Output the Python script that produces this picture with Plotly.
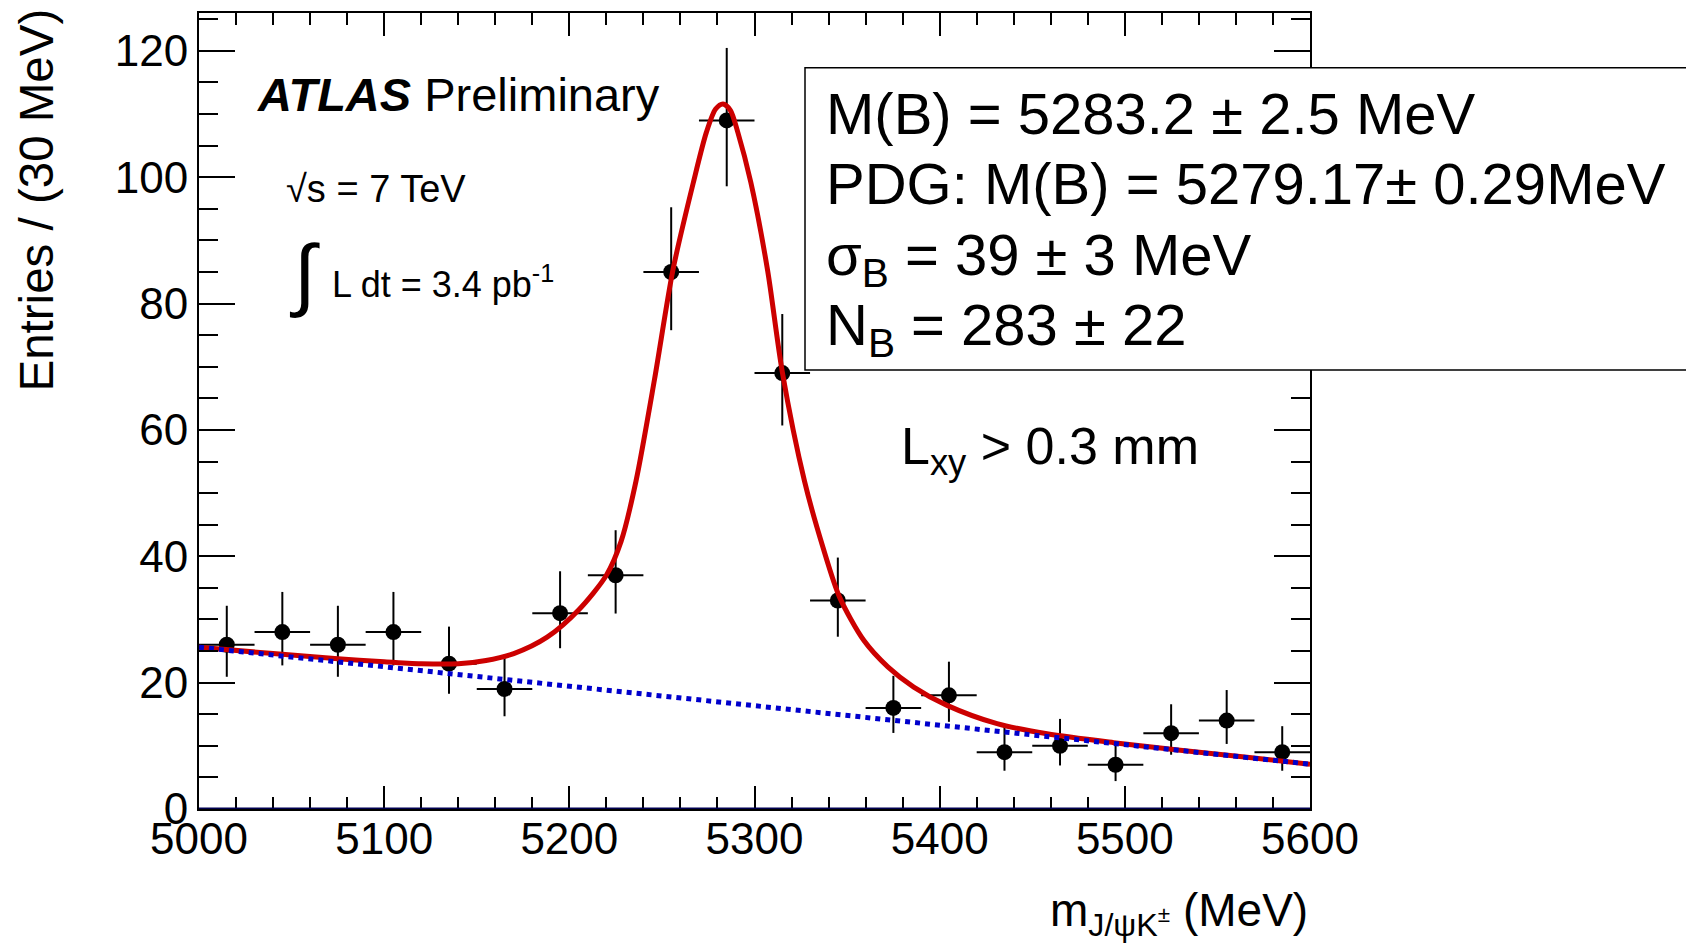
import plotly.graph_objects as go

# ---------------- data ----------------
bin_centers = [5015, 5045, 5075, 5105, 5135, 5165, 5195, 5225, 5255, 5285,
               5315, 5345, 5375, 5405, 5435, 5465, 5495, 5525, 5555, 5585]
entries = [26, 28, 26, 28, 23, 19, 31, 37, 85, 109,
           69, 33, 16, 18, 9, 10, 7, 12, 14, 9]
err_up = [6.17, 6.36, 6.17, 6.36, 5.87, 5.43, 6.63, 7.13, 10.25, 11.47,
          9.35, 6.80, 5.08, 5.32, 4.11, 4.26, 3.77, 4.58, 4.83, 4.11]
err_down = [5.07, 5.27, 5.07, 5.27, 4.76, 4.32, 5.55, 6.06, 9.21, 10.43,
            8.29, 5.73, 3.96, 4.20, 2.94, 3.11, 2.58, 3.41, 3.70, 2.94]
bin_half_width = [15] * 20

fit_x = [5000, 5040, 5075, 5100, 5120, 5140, 5155, 5170, 5188, 5205,
         5220, 5228, 5236, 5246, 5256, 5267, 5274, 5279, 5283, 5287,
         5291, 5298, 5307, 5315, 5327, 5337, 5346, 5359, 5372, 5386,
         5404, 5431, 5458, 5494, 5530, 5566, 5600]
fit_y = [25.6, 24.6, 23.8, 23.3, 23.0, 23.0, 23.5, 24.6, 27.2, 31.5,
         37.0, 42.4, 51.9, 68.0, 85.4, 99.2, 107.1, 110.8, 111.6, 110.6,
         107.1, 99.2, 85.4, 69.2, 51.9, 41.4, 33.5, 26.7, 22.5, 19.3,
         16.4, 13.5, 11.9, 10.5, 9.3, 8.2, 7.1]

bkg_x = [5000, 5600]
bkg_y = [25.6, 7.1]

x_range = [5000, 5600]
y_range = [0, 126]

# ---------------- figure ----------------
W, H = 1686, 945
L, R, T, B = 199, 376, 11, 136
PW, PH = W - L - R, H - T - B


def px(x):
    return (x - L) / PW


def py(y):
    return (H - B - y) / PH


FONT = "Liberation Sans, Arial, Helvetica, sans-serif"

fig = go.Figure()

fig.add_trace(go.Scatter(
    x=bin_centers, y=entries, mode="markers",
    marker=dict(color="black", size=16, symbol="circle"),
    error_y=dict(type="data", symmetric=False, array=err_up, arrayminus=err_down,
                 color="black", thickness=2, width=0),
    error_x=dict(type="data", array=bin_half_width, color="black", thickness=2, width=0),
    showlegend=False, hoverinfo="skip"))

fig.add_trace(go.Scatter(
    x=fit_x, y=fit_y, mode="lines",
    line=dict(color="#cc0000", width=5, shape="spline", smoothing=0.8),
    showlegend=False, hoverinfo="skip"))

fig.add_trace(go.Scatter(
    x=bkg_x, y=bkg_y, mode="lines",
    line=dict(color="#0000cc", width=5, dash="5px,5px"),
    showlegend=False, hoverinfo="skip"))

axis_common = dict(
    showgrid=False, zeroline=False, showline=True, linecolor="black", linewidth=2,
    mirror="allticks", ticks="inside", tickcolor="black", tickwidth=2,
    tickfont=dict(family=FONT, size=44, color="black"),
)

fig.update_xaxes(
    range=x_range, dtick=100, tick0=5000, ticklen=23, ticklabelstandoff=-10,
    minor=dict(dtick=20, ticklen=12, ticks="inside", tickcolor="black", tickwidth=2),
    **axis_common)
fig.update_yaxes(
    range=y_range, dtick=20, tick0=0, ticklen=36,
    minor=dict(dtick=5, ticklen=19, ticks="inside", tickcolor="black", tickwidth=2),
    **axis_common)

shapes = [
    # navy bottom axis line
    dict(type="line", xref="x", yref="y", x0=x_range[0], x1=x_range[1], y0=0, y1=0,
         line=dict(color="#000050", width=3), layer="above"),
    # info box
    dict(type="rect", xref="paper", yref="paper",
         x0=px(805), x1=px(1720), y0=py(66), y1=py(369),
         line=dict(color="black", width=1.5), fillcolor="white", layer="above"),
]

ann = []


def add_text(text, x, y, size, xanchor="left", yanchor="middle", **kw):
    ann.append(dict(text=text, x=px(x), y=py(y), xref="paper", yref="paper",
                    xanchor=xanchor, yanchor=yanchor, showarrow=False,
                    font=dict(family=FONT, size=size, color="black"), **kw))


add_text("<b><i>ATLAS</i></b> Preliminary", 255, 93, 47)
add_text("√s = 7 TeV", 284, 187, 38)
add_text("∫", 287, 272, 80)
add_text("L dt = 3.4 pb<sup>-1</sup>", 330, 281, 36)

add_text("M(B) = 5283.2 ± 2.5 MeV", 824, 112, 58)
add_text("PDG: M(B) = 5279.17± 0.29MeV", 824, 182, 58)
add_text("σ<sub>B</sub> = 39 ± 3 MeV", 824, 258, 58)
add_text("N<sub>B</sub> = 283 ± 22", 824, 328, 58)

add_text("L<sub>xy</sub> > 0.3 mm", 899, 449, 52)

add_text("m<sub>J/ψK<sup>±</sup></sub> (MeV)", 1310, 914, 46, xanchor="right")
add_text("Entries / (30 MeV)", 37, 5, 47.5, xanchor="center", yanchor="top", textangle=-90)

fig.update_layout(
    width=W, height=H,
    margin=dict(l=L, r=R, t=T, b=B, pad=0),
    paper_bgcolor="white", plot_bgcolor="white",
    shapes=shapes, annotations=ann,
    font=dict(family=FONT, color="black"),
)

fig.write_html("out.html")
